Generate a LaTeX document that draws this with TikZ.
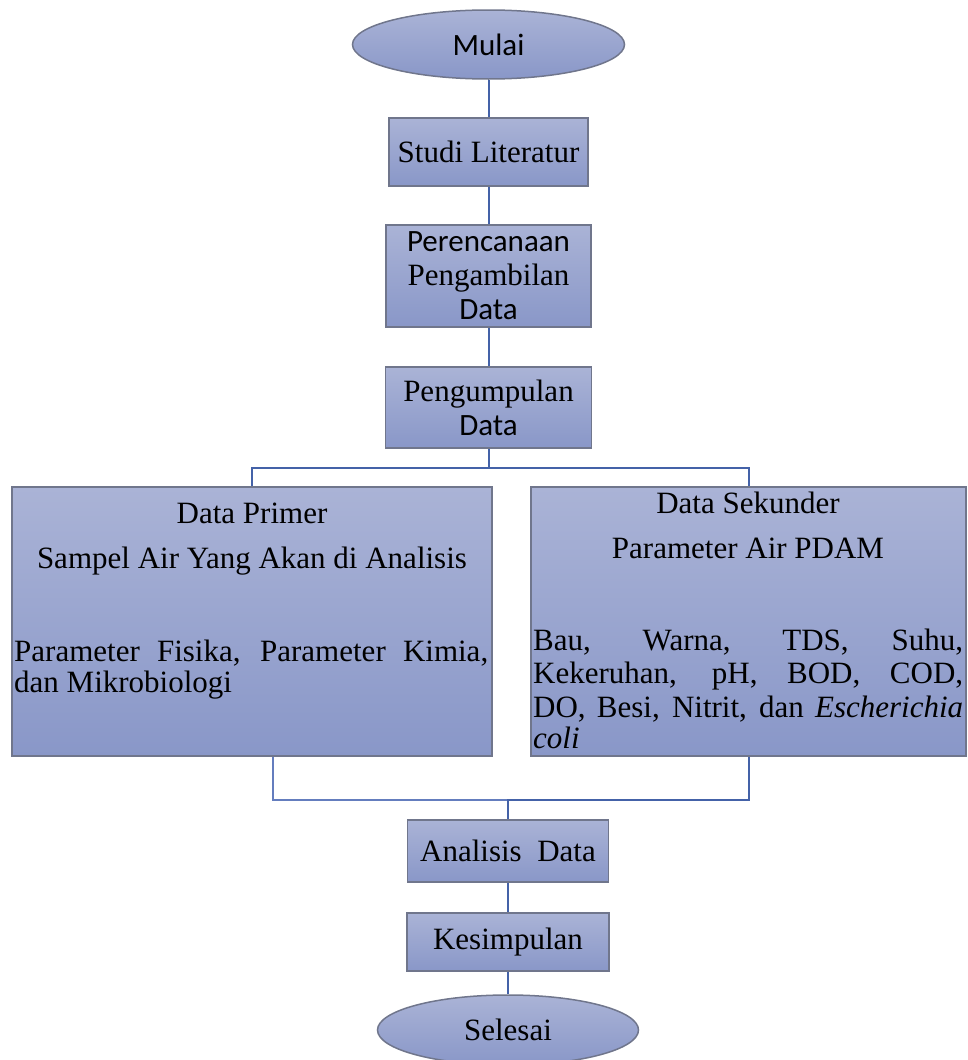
\documentclass[tikz,border=0pt]{standalone}
\usepackage{fontspec}
\setmainfont{Liberation Serif}
\newfontfamily\calibri{Carlito}
\newfontfamily\timesf{Liberation Serif}
\usetikzlibrary{shapes.geometric,calc}
\definecolor{filltop}{RGB}{170,179,214}
\definecolor{fillbot}{RGB}{137,151,200}
\definecolor{bordergray}{RGB}{112,118,140}
\definecolor{linkblue}{RGB}{68,98,168}
\definecolor{linklight}{RGB}{100,125,190}
\begin{document}
\begin{tikzpicture}[x=1pt,y=-1pt,
  box/.style={draw=bordergray, line width=1.5pt, top color=filltop, bottom color=fillbot,
    inner sep=0pt, align=center, font=\fontsize{31}{34}\selectfont},
  oval/.style={box, ellipse},
  link/.style={draw=linkblue, line width=2pt},
  thinlink/.style={draw=linklight, line width=1.2pt},
  txt/.style={inner sep=0pt, font=\fontsize{31}{33}\selectfont}]
\useasboundingbox (0,0) rectangle (967,1060);
\clip (0,0) rectangle (967,1060);

% nodes
\node[oval, minimum width=272pt, minimum height=69pt] (mulai) at (488.5,44.5) {\calibri Mulai};
\node[box, minimum width=199pt, minimum height=68pt] (studi) at (488.5,152) {\timesf Studi Literatur};
\node[box, minimum width=205pt, minimum height=102pt] (rencana) at (488.5,276)
  {\calibri Perencanaan\\\timesf Pengambilan\\\calibri Data};
\node[box, minimum width=206pt, minimum height=81pt] (kumpul) at (488.5,407.5)
  {\timesf Pengumpulan\\\calibri Data};
\node[box, minimum width=480pt, minimum height=269pt] (primer) at (252,621.5) {};
\node[box, minimum width=435pt, minimum height=269pt] (sekunder) at (748.5,621.5) {};
\node[box, minimum width=201pt, minimum height=62pt] (analisis) at (508,851) {\timesf Analisis\ \ Data};
\node[box, minimum width=202pt, minimum height=58pt] (simpul) at (508,942) {\timesf Kesimpulan};
\node[oval, minimum width=261pt, minimum height=70pt] (selesai) at (508,1030) {\timesf Selesai};

% text in Data Primer
\node[txt, anchor=base] (p1) at (252,523) {Data Primer};
\node[txt, anchor=base] (p2) at (252,568) {Sampel Air Yang Akan di Analisis};
\node[txt, anchor=base west] (p3) at (14,661) {\makebox[474pt][s]{Parameter Fisika, Parameter Kimia,}};
\node[txt, anchor=base west] (p4) at (14,692) {dan Mikrobiologi};

% text in Data Sekunder
\node[txt, anchor=base] (s1) at (748,513) {Data Sekunder};
\node[txt, anchor=base] (s2) at (748,558) {Parameter Air PDAM};
\node[txt, anchor=base west] (s3) at (533,650) {\makebox[430pt][s]{Bau, Warna, TDS, Suhu,}};
\node[txt, anchor=base west] (s4) at (533,683) {\makebox[430pt][s]{Kekeruhan, pH, BOD, COD,}};
\node[txt, anchor=base west] (s5) at (533,717) {\makebox[430pt][s]{DO, Besi, Nitrit, dan \textit{Escherichia}}};
\node[txt, anchor=base west] (s6) at (533,748) {\textit{coli}};

% connectors
\draw[link] (mulai.south) -- (studi.north);
\draw[link] (studi.south) -- (rencana.north);
\draw[link] (rencana.south) -- (kumpul.north);
\draw[link] (kumpul.south) -- ++(0,19) coordinate (split);
\draw[link] (split) -| (primer.north);
\draw[link] (split) -| (sekunder.north);

\coordinate (jl) at (273,800);
\coordinate (jm) at (508,800);
\draw[thinlink] (primer.south -| jl) -- (jl) -- (jm);
\draw[link] (sekunder.south) |- (jm) -- (analisis.north);
\draw[link] (analisis.south) -- (simpul.north);
\draw[link] (simpul.south) -- (selesai.north);
\end{tikzpicture}
\end{document}
